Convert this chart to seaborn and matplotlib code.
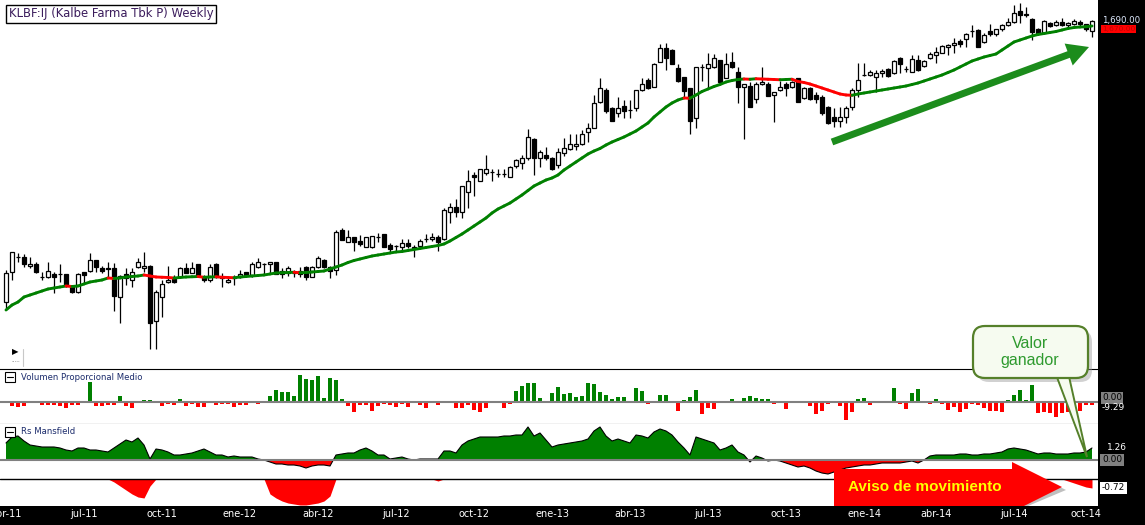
import numpy as np
import pandas as pd
import matplotlib
matplotlib.use("Agg")
import matplotlib.pyplot as plt
import seaborn as sns
from matplotlib.collections import LineCollection
from matplotlib.patches import Rectangle, FancyBboxPatch, Polygon, FancyArrowPatch
from matplotlib.transforms import IdentityTransform

W, H = 1145, 525

# weekly candles KLBF:IJ, abr-11 .. oct-14
opens = [
    566, 686, 746, 746, 710, 718, 666, 666, 678, 678,
    678, 630, 606, 686, 690, 734, 702, 702, 702, 586,
    678, 654, 706, 702, 710, 490, 586, 646, 658, 666,
    702, 682, 718, 666, 654, 718, 666, 646, 662, 666,
    686, 674, 706, 718, 718, 726, 690, 682, 682, 678,
    706, 666, 706, 734, 706, 694, 854, 806, 826, 810,
    786, 786, 826, 838, 794, 790, 786, 802, 782, 790,
    818, 818, 826, 818, 926, 946, 926, 1006, 1074, 1050,
    1082, 1086, 1078, 1078, 1066, 1110, 1122, 1142, 1218, 1142,
    1154, 1142, 1114, 1162, 1178, 1190, 1198, 1246, 1262, 1366,
    1414, 1342, 1322, 1350, 1334, 1342, 1414, 1454, 1426, 1526,
    1582, 1574, 1502, 1466, 1422, 1302, 1506, 1502, 1506, 1534,
    1462, 1526, 1486, 1426, 1430, 1378, 1438, 1438, 1394, 1414,
    1438, 1426, 1462, 1382, 1422, 1394, 1386, 1346, 1306, 1290,
    1306, 1346, 1414, 1474, 1474, 1466, 1482, 1498, 1482, 1542,
    1498, 1486, 1534, 1510, 1542, 1554, 1562, 1586, 1594, 1610,
    1618, 1650, 1654, 1606, 1650, 1638, 1658, 1674, 1686, 1730,
    1718, 1698, 1658, 1642, 1682, 1674, 1686, 1674, 1678, 1686,
    1678, 1650,
]
closes = [
    682, 766, 748, 718, 718, 686, 668, 690, 666, 680,
    630, 606, 678, 674, 734, 706, 690, 700, 590, 670,
    662, 686, 726, 710, 482, 606, 638, 654, 646, 702,
    682, 702, 674, 654, 706, 666, 664, 654, 666, 678,
    674, 718, 726, 720, 726, 678, 678, 702, 684, 690,
    666, 706, 742, 706, 690, 846, 814, 826, 806, 798,
    826, 830, 828, 786, 778, 792, 802, 790, 786, 810,
    820, 826, 806, 934, 946, 926, 1030, 1050, 1066, 1098,
    1098, 1088, 1080, 1080, 1106, 1134, 1142, 1226, 1142, 1166,
    1142, 1098, 1166, 1182, 1198, 1198, 1238, 1262, 1362, 1422,
    1330, 1290, 1342, 1330, 1336, 1414, 1438, 1422, 1518, 1582,
    1542, 1518, 1450, 1410, 1290, 1506, 1508, 1518, 1542, 1446,
    1518, 1506, 1426, 1438, 1346, 1438, 1446, 1390, 1406, 1426,
    1422, 1446, 1366, 1422, 1378, 1378, 1322, 1282, 1290, 1306,
    1342, 1414, 1454, 1476, 1486, 1482, 1490, 1470, 1530, 1518,
    1500, 1538, 1494, 1530, 1558, 1566, 1590, 1594, 1602, 1598,
    1638, 1652, 1586, 1634, 1638, 1658, 1674, 1686, 1722, 1714,
    1716, 1646, 1642, 1690, 1670, 1686, 1674, 1682, 1690, 1678,
    1658, 1690,
]
highs = [
    694, 766, 762, 758, 746, 726, 686, 726, 686, 718,
    678, 634, 682, 686, 762, 734, 710, 726, 722, 674,
    702, 702, 742, 766, 714, 614, 654, 710, 674, 706,
    722, 726, 718, 674, 718, 722, 682, 662, 674, 694,
    686, 726, 742, 722, 726, 726, 702, 710, 694, 706,
    710, 710, 750, 738, 710, 854, 862, 854, 826, 834,
    826, 830, 842, 838, 802, 794, 818, 818, 794, 818,
    838, 842, 834, 942, 962, 978, 1030, 1094, 1086, 1098,
    1154, 1098, 1098, 1098, 1110, 1138, 1154, 1258, 1222, 1174,
    1186, 1146, 1182, 1222, 1238, 1238, 1254, 1282, 1394, 1462,
    1422, 1346, 1386, 1374, 1374, 1414, 1462, 1462, 1522, 1598,
    1602, 1578, 1518, 1466, 1422, 1506, 1518, 1562, 1558, 1534,
    1562, 1566, 1506, 1438, 1446, 1446, 1506, 1446, 1406, 1450,
    1446, 1450, 1462, 1426, 1426, 1406, 1394, 1350, 1342, 1346,
    1350, 1422, 1522, 1522, 1494, 1494, 1498, 1502, 1534, 1546,
    1510, 1554, 1554, 1534, 1566, 1586, 1594, 1598, 1622, 1618,
    1642, 1674, 1658, 1642, 1678, 1658, 1678, 1702, 1754, 1762,
    1746, 1702, 1662, 1694, 1686, 1694, 1702, 1686, 1698, 1694,
    1678, 1694,
]
lows = [
    542, 654, 726, 706, 702, 682, 654, 662, 602, 646,
    626, 602, 602, 642, 686, 686, 682, 662, 530, 482,
    634, 626, 702, 686, 378, 378, 506, 642, 642, 662,
    682, 682, 666, 646, 646, 662, 626, 642, 634, 662,
    666, 666, 702, 678, 678, 678, 662, 670, 666, 666,
    654, 666, 702, 702, 662, 674, 814, 806, 770, 790,
    786, 782, 806, 786, 766, 770, 770, 782, 746, 786,
    806, 810, 770, 814, 882, 906, 902, 942, 990, 1050,
    1074, 1050, 1066, 1066, 1066, 1102, 1098, 1134, 1074, 1106,
    1134, 1094, 1102, 1150, 1174, 1174, 1194, 1206, 1262, 1362,
    1322, 1290, 1306, 1302, 1302, 1330, 1410, 1418, 1426, 1526,
    1494, 1518, 1446, 1382, 1238, 1262, 1450, 1422, 1502, 1446,
    1462, 1502, 1362, 1218, 1346, 1362, 1434, 1390, 1286, 1410,
    1390, 1422, 1366, 1378, 1374, 1362, 1314, 1278, 1266, 1266,
    1282, 1334, 1386, 1470, 1470, 1406, 1466, 1466, 1478, 1482,
    1486, 1486, 1490, 1506, 1538, 1522, 1562, 1554, 1562, 1586,
    1586, 1626, 1586, 1602, 1630, 1630, 1650, 1670, 1682, 1682,
    1706, 1614, 1634, 1642, 1666, 1670, 1670, 1666, 1674, 1666,
    1650, 1626,
]
# 30 week moving average
ma30 = [
    534, 554, 566, 586, 594, 602, 610, 618, 622, 626,
    630, 628, 630, 638, 646, 650, 654, 662, 660, 662,
    666, 668, 670, 674, 670, 666, 665, 664, 662, 664,
    666, 667, 668, 665, 666, 667, 665, 664, 663, 666,
    668, 670, 672, 674, 678, 682, 683, 684, 685, 683,
    684, 686, 688, 690, 698, 706, 714, 724, 732, 738,
    744, 750, 754, 758, 762, 766, 768, 772, 776, 780,
    784, 788, 792, 798, 810, 824, 838, 854, 870, 886,
    902, 922, 938, 950, 962, 978, 994, 1012, 1030, 1042,
    1054, 1062, 1074, 1094, 1110, 1126, 1142, 1158, 1170, 1180,
    1194, 1206, 1216, 1226, 1238, 1250, 1266, 1282, 1306, 1326,
    1346, 1362, 1374, 1382, 1381, 1394, 1408, 1418, 1428, 1436,
    1446, 1452, 1456, 1458, 1457, 1459, 1458, 1457, 1456, 1455,
    1456, 1457, 1448, 1444, 1438, 1430, 1422, 1414, 1406, 1398,
    1394, 1393, 1398, 1402, 1406, 1410, 1414, 1418, 1422, 1426,
    1430, 1436, 1442, 1450, 1458, 1466, 1474, 1484, 1494, 1506,
    1518, 1530, 1538, 1546, 1552, 1558, 1574, 1590, 1606, 1614,
    1622, 1630, 1636, 1640, 1644, 1648, 1654, 1660, 1664, 1666,
    1667, 1670,
]
# Volumen Proporcional Medio
vol_prop = [
    0, -4, -5, -4, 1, 0, -3, -3, -3, -4,
    -6, -3, -3, 0, 20, -4, -4, -3, -3, 6,
    -4, -6, 0, 2, 2, 0, -4, -2, -3, 3,
    -4, -2, -5, -5, 0, -3, -2, -2, -5, -3,
    -3, 0, -2, 0, 6, 12, 10, 10, 6, 27,
    23, 22, 26, 4, 24, 22, 3, -4, -10, -3,
    -3, -9, -4, -2, -3, -5, -2, -5, 1, -3,
    -6, 1, -3, -1, 0, -6, -6, -3, -8, -10,
    -6, 0, 0, -6, -2, 11, 16, 19, 19, 4,
    1, 9, 15, 8, 9, 5, 6, 19, 18, 10,
    7, 3, 5, 5, 0, 14, 11, -2, 0, 7,
    7, 1, -9, 2, 5, 12, -12, -6, -7, 1,
    0, 3, 0, 4, 6, 4, 3, 3, -2, 1,
    -7, 0, 1, 0, -4, -12, -9, -2, -1, -4,
    -18, -10, 3, 4, -3, -1, -1, 0, 14, -2,
    -7, 9, 13, 1, -2, 3, -2, -8, -5, -10,
    -7, -2, -3, -6, -9, -9, -10, 2, 7, 12,
    2, 17, -11, -10, -11, -15, -11, -10, -4, -9,
    -3, -3,
]
# Rs Mansfield
rs_mansfield = [
    17, 23, 24, 19, 15, 14, 13, 13, 13, 12,
    10, 9, 12, 12, 10, 10, 9, 8, 12, 16,
    20, 18, 22, 15, 1, 11, 10, 8, 5, 5,
    6, 7, 9, 11, 8, 5, 5, 3, 4, 3,
    3, 3, 1, 0, -2, -4, -4, -5, -5, -6,
    -8, -6, -5, -5, -6, 5, 6, 7, 7, 10,
    12, 9, 5, 5, 1, 2, 3, 1, 0, 1,
    1, 1, 1, 9, 9, 7, 15, 19, 21, 23,
    23, 23, 23, 24, 24, 25, 25, 33, 24, 27,
    20, 13, 15, 16, 17, 18, 19, 21, 29, 33,
    24, 19, 21, 19, 17, 25, 24, 22, 28, 31,
    29, 25, 18, 12, 5, 23, 21, 19, 17, 10,
    12, 15, 8, 5, -2, 4, 2, -1, 0, -1,
    -3, -5, -7, -6, -8, -11, -13, -14, -12, -10,
    -8, -7, -6, -5, -5, -4, -3, -3, -3, -3,
    -2, -1, -3, 0, 4, 5, 5, 5, 5, 6,
    6, 5, 5, 6, 6, 7, 8, 11, 12, 11,
    10, 8, 6, 7, 7, 6, 6, 6, 7, 7,
    8, 12,
]
# lower band of the Rs panel (depth below its own base line)
rs_low = [
    0, 0, 0, 0, 0, 0, 0, 0, 0, 0,
    0, 0, 0, 0, 0, 0, 0, 0, 3, 7,
    11, 15, 18, 19, 7, 0, 0, 0, 0, 0,
    0, 0, 0, 0, 0, 0, 0, 0, 0, 0,
    0, 0, 0, 0, 15, 19, 22, 24, 25, 26,
    26, 25, 24, 22, 17, 0, 0, 0, 0, 0,
    0, 0, 0, 0, 0, 0, 0, 0, 0, 0,
    0, 0, 2, 0, 0, 0, 0, 0, 0, 0,
    0, 0, 0, 0, 0, 0, 0, 0, 0, 0,
    0, 0, 0, 0, 0, 0, 0, 0, 0, 0,
    0, 0, 0, 0, 0, 0, 0, 0, 0, 0,
    0, 0, 0, 0, 0, 0, 0, 0, 0, 0,
    0, 0, 0, 0, 0, 0, 0, 0, 0, 0,
    0, 0, 0, 0, 0, 0, 0, 0, 0, 0,
    0, 0, 0, 0, 0, 0, 0, 0, 0, 0,
    0, 0, 0, 0, 0, 0, 0, 0, 0, 0,
    0, 0, 0, 0, 0, 0, 0, 0, 0, 0,
    0, 0, 0, 0, 0, 0, 0, 2, 4, 6,
    8, 9,
]
date_ticks = [0, 13, 26, 39, 52, 65, 78, 91, 104, 117, 130, 143, 155, 168, 180]
date_labels = ["abr-11", "jul-11", "oct-11", "ene-12", "abr-12", "jul-12", "oct-12",
               "ene-13", "abr-13", "jul-13", "oct-13", "ene-14", "abr-14", "jul-14", "oct-14"]

sns.set_style("white")
plt.rcParams["font.family"] = ["DejaVu Sans"]

fig = plt.figure(figsize=(W / 100, H / 100), dpi=100, facecolor="black")
PIX = IdentityTransform()


def panel(top, bottom, right=1098):
    a = fig.add_axes([0, 1 - bottom / H, right / W, (bottom - top) / H])
    a.set_facecolor("white")
    for s in a.spines.values():
        s.set_visible(False)
    a.set_xticks([])
    a.set_yticks([])
    return a


def P(x, y):
    return (x, H - y)


ax = panel(0, 369)
axv = panel(369, 424)
axr = panel(424, 506)

weeks = np.arange(len(closes))
o = np.array(opens, float)
c = np.array(closes, float)
up = c >= o

# --- price candles
ax.vlines(weeks, lows, highs, color="black", lw=0.9, zorder=2)
ax.bar(weeks, c - o, bottom=o, width=0.72, color=np.where(up, "white", "black"),
       edgecolor="black", linewidth=0.9, zorder=3)

ma = np.array(ma30, float)
pts = np.column_stack([weeks, ma])
segs = np.stack([pts[:-1], pts[1:]], axis=1)
seg_cols = np.where(np.diff(ma) < 0, "#ff0000", "#008000")
ax.add_collection(LineCollection(segs, colors=seg_cols, linewidths=2.1,
                                 capstyle="round", zorder=4))
ax.set_xlim(-1, 182)
ax.set_ylim(1774 - 4 * 369, 1774)

# --- volume panel
vol_df = pd.DataFrame({"week": weeks, "vol": vol_prop,
                       "side": np.where(np.array(vol_prop) >= 0, "up", "down")})
sns.barplot(data=vol_df, x="week", y="vol", hue="side",
            palette={"up": "#008000", "down": "#ff0000"}, native_scale=True,
            width=0.7, dodge=False, legend=False, errorbar=None,
            saturation=1, linewidth=0, ax=axv)
axv.axhline(0, color="#808080", lw=1.5, zorder=1)
axv.set_xlim(-1, 182)
axv.set_ylim(-22, 33)
axv.set_xlabel("")
axv.set_ylabel("")
axv.set_xticks([])
axv.set_yticks([])
axv.spines["top"].set_visible(True)
axv.spines["bottom"].set_visible(True)
axv.spines["top"].set_color("black")
axv.spines["bottom"].set_color("black")

# --- Rs Mansfield panel
rs = np.array(rs_mansfield, float)
low = np.array(rs_low, float)
axr.fill_between(weeks, 0, rs, where=rs >= 0, interpolate=True, color="#008000", lw=0)
axr.fill_between(weeks, 0, rs, where=rs <= 0, interpolate=True, color="#ff0000", lw=0)
sns.lineplot(x=weeks, y=rs, color="black", lw=0.8, ax=axr)
axr.axhline(0, color="#808080", lw=1.5)
axr.fill_between(weeks, -19, -19 - low, color="#ff0000", lw=0)
axr.axhline(-19, color="black", lw=1)
axr.set_xlim(-1, 182)
axr.set_ylim(-46, 36)
axr.set_ylabel("")
axr.set_yticks([])
axr.set_xticks(date_ticks, date_labels)
axr.tick_params(axis="x", length=0, colors="white", labelsize=7, pad=2.5)

# --- right scale labels
def side_label(a, yv, text, dx, dy=0, size=7, **kw):
    a.annotate(text, xy=(1, yv), xycoords=(a.transAxes, a.transData),
               xytext=(dx, dy), textcoords="offset pixels", va="center", ha="left",
               annotation_clip=False, fontsize=size, **kw)


side_label(ax, closes[-1], f"{closes[-1]:,.2f}", 4, 1, size=6.2, color="#dfeaff")
side_label(ax, ma30[-1], f"{ma30[-1]:,.2f}", 4, -3, size=5.4, color="#c00000",
           bbox=dict(boxstyle="square,pad=0.12", fc="#ff0000", ec="none"))
side_label(axv, 0, "0.00", 4, 4, size=6.5, color="black",
           bbox=dict(boxstyle="square,pad=0.15", fc="#808080", ec="none"))
side_label(axv, vol_prop[-1], "-9.29", 4, -2, size=6.5, color="white")
side_label(axr, rs[-1], "1.26", 9, 0, size=6.5, color="white")
side_label(axr, 0, "0.00", 4, 0, size=6.5, color="black",
           bbox=dict(boxstyle="square,pad=0.2", fc="#808080", ec="none"))
side_label(axr, -19 - low[-1], "-0.72", 4, 0, size=6.5, color="black",
           bbox=dict(boxstyle="square,pad=0.2", fc="white", ec="none"))

# --- headers
fig.text(9 / W, 1 - 14 / H, "KLBF:IJ (Kalbe Farma Tbk P) Weekly", fontsize=8.4,
         color="#3b1c5c", va="center", ha="left",
         bbox=dict(boxstyle="square,pad=0.22", fc="white", ec="black", lw=1))
for top, name in [(371, "Volumen Proporcional Medio"), (426, "Rs Mansfield")]:
    fig.add_artist(Rectangle(P(5, top + 11), 10, 10, transform=PIX, fc="white",
                             ec="black", lw=0.8))
    fig.add_artist(plt.Line2D([7, 13], [H - top - 5.5, H - top - 5.5],
                              transform=PIX, color="black", lw=0.8))
    fig.text(21 / W, 1 - (top + 6) / H, name, fontsize=6.1, color="#1c2c6c",
             va="center", ha="left")
fig.text(12 / W, 1 - 352 / H, "\u25b6", fontsize=6, color="black", va="center")
fig.text(11 / W, 1 - 360 / H, ".....", fontsize=4, color="#555555", va="center")
fig.add_artist(plt.Line2D([23, 23], [H - 349, H - 366], transform=PIX,
                          color="#c8c8c8", lw=0.8))

# --- green trend arrow
fig.add_artist(FancyArrowPatch(P(832, 142), P(1089, 47), transform=PIX,
                               arrowstyle="simple,head_length=1.3,head_width=1.4,tail_width=0.42",
                               mutation_scale=12, color="#1c8c1c", lw=0,
                               shrinkA=0, shrinkB=0))

# --- callout "Valor ganador"
fig.add_artist(FancyBboxPatch(P(977, 382), 115, 52, transform=PIX,
                              boxstyle="round,pad=0,rounding_size=12",
                              fc="#9a9a9a", ec="none", alpha=0.45))
fig.add_artist(Polygon([P(1055, 372), P(1087, 457), P(1068, 372)], transform=PIX,
                       closed=True, fc="#f6fbf0", ec="#55802a", lw=1.4))
fig.add_artist(FancyBboxPatch(P(973, 378), 115, 52, transform=PIX,
                              boxstyle="round,pad=0,rounding_size=12",
                              fc="#f6fbf0", ec="#55802a", lw=1.6))
fig.text(1030 / W, 1 - 352 / H, "Valor\nganador", fontsize=11.5, color="#2e9a2e",
         family=["Liberation Sans", "DejaVu Sans"], ha="center", va="center",
         linespacing=1.15)

# --- red arrow "Aviso de movimiento"
arrow_pts = [(834, 469), (1012, 469), (1012, 462), (1062, 487), (1024, 506), (834, 506)]
fig.add_artist(Polygon([P(x + 4, min(y + 3, 506)) for x, y in arrow_pts], transform=PIX,
                       closed=True, fc="#808080", ec="none", alpha=0.5))
fig.add_artist(Polygon([P(x, y) for x, y in arrow_pts], transform=PIX,
                       closed=True, fc="#ff0000", ec="none"))
fig.text(925 / W, 1 - 487 / H, "Aviso de movimiento", fontsize=11, color="#ffff00",
         fontweight="bold", family=["Liberation Sans", "DejaVu Sans"],
         ha="center", va="center")

fig.savefig("out.png", dpi=100, facecolor=fig.get_facecolor())
